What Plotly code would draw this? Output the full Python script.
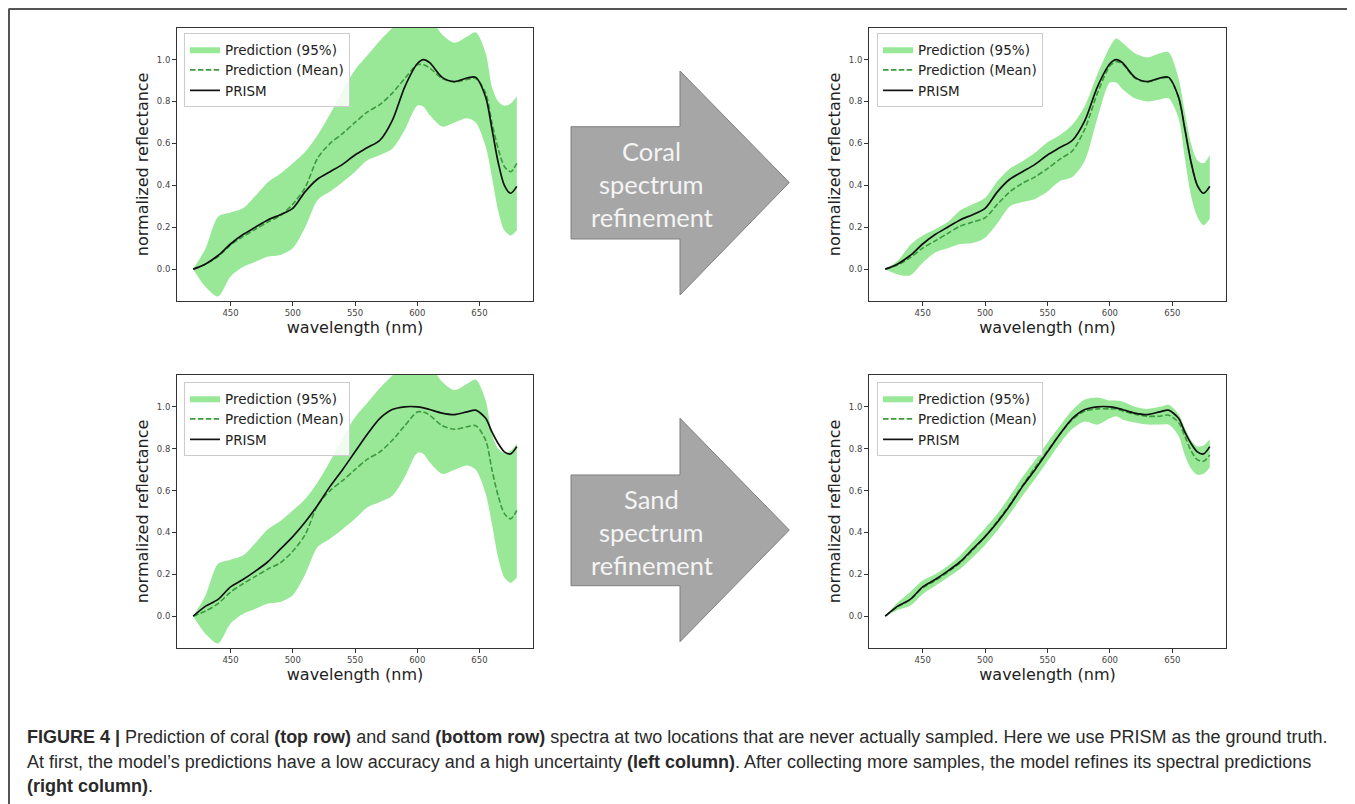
import plotly.graph_objects as go

# page body has an 8px margin: the figure is drawn offset by OFF pixels
OFF = 8
W, H = 1355 - OFF, 804 - OFF

# ---------------- data ----------------
wavelength = [420, 430, 440, 450, 460, 470, 480, 490, 500, 510, 520, 530, 540, 550, 560,
              570, 580, 590, 600, 605, 610, 620, 630, 640, 647, 655, 660, 665, 670, 675, 680]

coral_prism = [0.0, 0.025, 0.065, 0.12, 0.165, 0.20, 0.235, 0.26, 0.29, 0.37, 0.43, 0.465, 0.50, 0.545, 0.58,
               0.615, 0.71, 0.87, 0.98, 1.0, 0.985, 0.915, 0.895, 0.912, 0.915, 0.82, 0.67, 0.51, 0.40, 0.362, 0.395]

sand_prism = [0.0, 0.048, 0.08, 0.14, 0.175, 0.215, 0.26, 0.32, 0.38, 0.45, 0.53, 0.62, 0.70, 0.785, 0.87,
              0.945, 0.987, 1.0, 1.0, 0.995, 0.987, 0.97, 0.963, 0.976, 0.984, 0.945, 0.88, 0.825, 0.785, 0.775, 0.81]

# initial prediction (left column, same for both locations)
init_mean = [0.0, 0.025, 0.06, 0.115, 0.155, 0.19, 0.225, 0.255, 0.31, 0.39, 0.53, 0.60, 0.647, 0.70, 0.75,
             0.785, 0.84, 0.91, 0.975, 0.975, 0.96, 0.91, 0.893, 0.905, 0.91, 0.84, 0.70, 0.575, 0.49, 0.465, 0.505]
init_upper = [0.0, 0.10, 0.25, 0.27, 0.29, 0.35, 0.415, 0.455, 0.505, 0.56, 0.64, 0.74, 0.85, 0.95, 1.02,
              1.09, 1.15, 1.20, 1.22, 1.22, 1.20, 1.12, 1.08, 1.11, 1.13, 1.03, 0.87, 0.80, 0.78, 0.79, 0.825]
init_lower = [0.0, -0.085, -0.13, -0.035, 0.01, 0.035, 0.06, 0.068, 0.10, 0.20, 0.33, 0.37, 0.415, 0.465, 0.52,
              0.545, 0.575, 0.665, 0.78, 0.775, 0.735, 0.68, 0.70, 0.72, 0.70, 0.585, 0.44, 0.28, 0.185, 0.16, 0.185]

# refined coral prediction (top right)
coral_mean = [0.0, 0.02, 0.055, 0.10, 0.135, 0.17, 0.205, 0.225, 0.245, 0.31, 0.37, 0.41, 0.44, 0.48, 0.525,
              0.565, 0.67, 0.84, 0.97, 0.99, 0.98, 0.912, 0.893, 0.91, 0.913, 0.82, 0.67, 0.51, 0.40, 0.362, 0.395]
coral_upper = [0.0, 0.04, 0.115, 0.16, 0.19, 0.225, 0.28, 0.31, 0.34, 0.42, 0.48, 0.515, 0.555, 0.605, 0.64,
               0.69, 0.78, 0.93, 1.06, 1.10, 1.08, 1.03, 1.01, 1.03, 1.035, 0.91, 0.75, 0.60, 0.52, 0.505, 0.545]
coral_lower = [0.0, -0.025, -0.03, 0.03, 0.08, 0.10, 0.12, 0.125, 0.15, 0.22, 0.30, 0.32, 0.335, 0.37, 0.42,
               0.44, 0.52, 0.72, 0.89, 0.89, 0.86, 0.815, 0.80, 0.81, 0.815, 0.72, 0.53, 0.35, 0.25, 0.21, 0.24]

# refined sand prediction (bottom right)
sand_mean = [0.0, 0.045, 0.078, 0.135, 0.17, 0.21, 0.255, 0.315, 0.38, 0.455, 0.535, 0.625, 0.71, 0.79, 0.87,
             0.94, 0.98, 0.99, 0.99, 0.99, 0.98, 0.965, 0.955, 0.955, 0.96, 0.925, 0.86, 0.79, 0.748, 0.74, 0.77]
sand_upper = [0.0, 0.065, 0.115, 0.17, 0.20, 0.24, 0.29, 0.355, 0.42, 0.49, 0.575, 0.665, 0.745, 0.83, 0.91,
              0.985, 1.035, 1.045, 1.03, 1.03, 1.025, 1.0, 0.99, 1.0, 1.01, 0.965, 0.90, 0.84, 0.81, 0.815, 0.845]
sand_lower = [0.0, 0.03, 0.05, 0.105, 0.145, 0.185, 0.225, 0.28, 0.34, 0.41, 0.49, 0.575, 0.655, 0.74, 0.825,
              0.895, 0.93, 0.915, 0.945, 0.955, 0.94, 0.925, 0.915, 0.915, 0.915, 0.86, 0.77, 0.705, 0.675, 0.68, 0.71]

x_ticks = [450, 500, 550, 600, 650]
y_ticks = [0.0, 0.2, 0.4, 0.6, 0.8, 1.0]
y_tick_labels = ["0.0", "0.2", "0.4", "0.6", "0.8", "1.0"]
legend_names = ["Prediction (95%)", "Prediction (Mean)", "PRISM"]
x_title = "wavelength (nm)"
y_title = "normalized reflectance"
arrow_labels = [["Coral", "spectrum", "refinement"], ["Sand", "spectrum", "refinement"]]
caption_lines = [
    "<b>FIGURE 4 |</b> Prediction of coral <b>(top row)</b> and sand <b>(bottom row)</b> spectra at two locations that are never actually sampled. Here we use PRISM as the ground truth.",
    "At first, the model\u2019s predictions have a low accuracy and a high uncertainty <b>(left column)</b>. After collecting more samples, the model refines its spectral predictions",
    "<b>(right column)</b>.",
]

panels = [
    # (mean, upper, lower, prism, axis suffix, legend id)
    (init_mean, init_upper, init_lower, coral_prism, "", "legend"),
    (coral_mean, coral_upper, coral_lower, coral_prism, "2", "legend2"),
    (init_mean, init_upper, init_lower, sand_prism, "3", "legend3"),
    (sand_mean, sand_upper, sand_lower, sand_prism, "4", "legend4"),
]

# ---------------- styles ----------------
FONT = "DejaVu Sans"
BAND = "#98e898"
MEAN = "#3d9a3d"
PRISM = "#111111"


def px(x):
    return (x - OFF) / W


def py(y):
    return 1 - (y - OFF) / H


fig = go.Figure()
for mean, upper, lower, prism, sfx, leg in panels:
    xa, ya = "x" + sfx, "y" + sfx
    fig.add_trace(go.Scatter(x=wavelength, y=upper, mode="lines", line=dict(width=0, color=BAND, shape="spline", smoothing=0.8),
                             showlegend=False, hoverinfo="skip", xaxis=xa, yaxis=ya, legend=leg))
    fig.add_trace(go.Scatter(x=wavelength, y=lower, mode="lines", fill="tonexty", fillcolor=BAND,
                             line=dict(width=0, color=BAND, shape="spline", smoothing=0.8),
                             name=legend_names[0], xaxis=xa, yaxis=ya, legend=leg))
    fig.add_trace(go.Scatter(x=wavelength, y=mean, mode="lines",
                             line=dict(width=1.6, color=MEAN, dash="5.5px,2.4px", shape="spline", smoothing=0.8),
                             name=legend_names[1], xaxis=xa, yaxis=ya, legend=leg))
    fig.add_trace(go.Scatter(x=wavelength, y=prism, mode="lines",
                             line=dict(width=1.7, color=PRISM, shape="spline", smoothing=0.8),
                             name=legend_names[2], xaxis=xa, yaxis=ya, legend=leg))

# panel geometry (reference pixels)
col_x = [(177, 533), (869, 1226)]
row_y = [(27.7, 301), (375, 648)]

axis_common = dict(showline=True, mirror=True, linecolor="#333", linewidth=1, showgrid=False, zeroline=False,
                   ticks="outside", ticklen=4, tickcolor="#333", tickwidth=1,
                   tickfont=dict(family=FONT, size=8.5, color="#444"))

layout = dict(width=W, height=H, margin=dict(l=0, r=0, t=0, b=0), paper_bgcolor="white", plot_bgcolor="white",
              font=dict(family=FONT, color="#222"))

legend_pos = [(184, 33), (877, 33), (184, 382), (877, 382)]
for i, (mean, upper, lower, prism, sfx, leg) in enumerate(panels):
    r, c = divmod(i, 2)
    x0, x1 = col_x[c]
    y0, y1 = row_y[r]
    layout["xaxis" + sfx] = dict(domain=[px(x0), px(x1)], range=[407, 693], tickvals=x_ticks, anchor="y" + sfx,
                                 title=dict(text=x_title, font=dict(family=FONT, size=16, color="#222"), standoff=3),
                                 **axis_common)
    layout["yaxis" + sfx] = dict(domain=[py(y1), py(y0)], range=[-0.152, 1.152], tickvals=y_ticks,
                                 ticktext=y_tick_labels, anchor="x" + sfx,
                                 title=dict(text=y_title, font=dict(family=FONT, size=16, color="#222"), standoff=4),
                                 **axis_common)
    lx, ly = legend_pos[i]
    layout[leg] = dict(x=px(lx), y=py(ly), xanchor="left", yanchor="top", bgcolor="rgba(255,255,255,0.85)",
                       bordercolor="#cccccc", borderwidth=1, font=dict(family=FONT, size=13.5, color="#222"),
                       traceorder="normal", itemwidth=30)

fig.update_layout(**layout)

# ---------------- arrows ----------------
shapes = []
annotations = []
arrow_geo = [(126.7, 239, 71, 295, 182.5), (475, 585.7, 418.3, 641.7, 530)]
for (st, sb, ht, hb, cy), labels in zip(arrow_geo, arrow_labels):
    pts = [(571, st), (680, st), (680, ht), (789.3, cy), (680, hb), (680, sb), (571, sb)]
    path = "M " + " L ".join(f"{px(a):.5f},{py(b):.5f}" for a, b in pts) + " Z"
    shapes.append(dict(type="path", xref="paper", yref="paper", path=path, fillcolor="#a6a6a6",
                       line=dict(color="#7f7f7f", width=1), layer="below"))
    for k, t in enumerate(labels):
        annotations.append(dict(x=px(651.7), y=py(cy - 31.5 + 33 * k), xref="paper", yref="paper", text=t,
                                showarrow=False, xanchor="center", yanchor="middle",
                                font=dict(family="Lato", size=25.5, color="#f4f4f4")))

# frame lines (top and left)
shapes.append(dict(type="line", xref="paper", yref="paper", x0=px(8.5), x1=1, y0=py(9), y1=py(9),
                   line=dict(color="#555", width=2)))
shapes.append(dict(type="line", xref="paper", yref="paper", x0=px(9), x1=px(9), y0=py(9), y1=0,
                   line=dict(color="#555", width=2)))

# caption
for k, t in enumerate(caption_lines):
    annotations.append(dict(x=px(25), y=py(737 + 24.5 * k), xref="paper", yref="paper", text=t,
                            showarrow=False, xanchor="left", yanchor="middle",
                            font=dict(family="Liberation Sans", size=18, color="#2a2a2a")))

fig.update_layout(shapes=shapes, annotations=annotations)
fig.write_html("out.html")
